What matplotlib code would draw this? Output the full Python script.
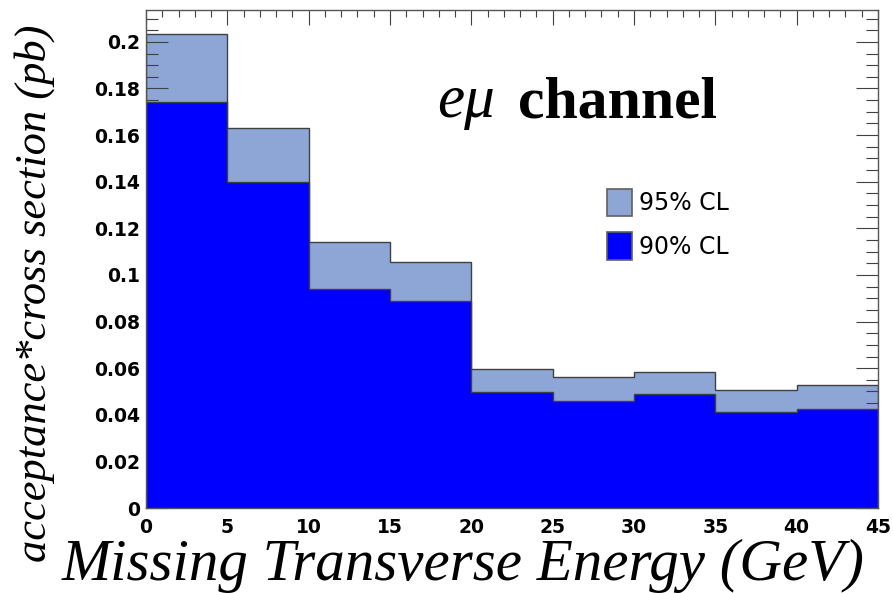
import numpy as np
import matplotlib
matplotlib.use("Agg")
import matplotlib.pyplot as plt
from matplotlib.ticker import MultipleLocator, FuncFormatter

# Missing transverse energy bins (GeV)
bin_edges = [0, 5, 10, 15, 20, 25, 30, 35, 40, 45]
# Upper limits on acceptance * cross section (pb)
limit_95 = [0.2035, 0.1630, 0.1143, 0.1057, 0.0598, 0.0561, 0.0583, 0.0507, 0.0528]
limit_90 = [0.1744, 0.1400, 0.0940, 0.0888, 0.0496, 0.0460, 0.0487, 0.0414, 0.0424]
series_labels = ["95% CL", "90% CL"]

W, H = 893, 593
fig = plt.figure(figsize=(W / 100, H / 100), dpi=100)
ax = fig.add_axes([146 / W, 1 - 508 / H, (878 - 146) / W, (508 - 10) / H])

edge = "#404040"
h95 = ax.stairs(limit_95, bin_edges, fill=True, facecolor="#8da6d6",
                edgecolor=edge, linewidth=1.0, zorder=1, label=series_labels[0])
h90 = ax.stairs(limit_90, bin_edges, fill=True, facecolor="#0000ff",
                edgecolor=edge, linewidth=1.0, zorder=2, label=series_labels[1])

ax.set_xlim(bin_edges[0], bin_edges[-1])
ax.set_ylim(0, max(limit_95) * 1.05)
ax.set_axisbelow("line")

ax.xaxis.set_major_locator(MultipleLocator(5))
ax.xaxis.set_minor_locator(MultipleLocator(1))
ax.yaxis.set_major_locator(MultipleLocator(0.02))
ax.yaxis.set_minor_locator(MultipleLocator(0.005))
ax.yaxis.set_major_formatter(FuncFormatter(lambda v, p: f"{v:g}"))
ax.xaxis.set_major_formatter(FuncFormatter(lambda v, p: f"{v:g}"))

tick_col = "#404040"
ax.tick_params(axis="x", which="both", direction="in", top=True, bottom=True,
               color=tick_col, width=0.8)
ax.tick_params(axis="x", which="major", length=10.8, pad=7)
ax.tick_params(axis="x", which="minor", length=5)
ax.tick_params(axis="y", which="both", direction="in", left=True, right=True,
               color=tick_col, width=0.8)
ax.tick_params(axis="y", which="major", length=15.8, pad=4.5)
ax.tick_params(axis="y", which="minor", length=8.6)

for lab in ax.get_xticklabels() + ax.get_yticklabels():
    lab.set_fontfamily("DejaVu Sans")
    lab.set_fontweight("bold")
    lab.set_fontsize(13.5)

for sp in ax.spines.values():
    sp.set_color("#555555")
    sp.set_linewidth(1.0)

# Legend
fs_leg = 17
leg = fig.legend(handles=[h95, h90], labels=series_labels,
                 loc="upper left", bbox_to_anchor=(607 / W, 1 - 189 / H),
                 frameon=False, prop={"family": "DejaVu Sans", "size": fs_leg},
                 handlelength=1.06, handleheight=1.4, labelspacing=0.68,
                 handletextpad=0.28, borderpad=0, borderaxespad=0)
for p in leg.get_patches():
    p.set_edgecolor("#606060")
    p.set_linewidth(1.2)

# Channel annotation
fig.text(437 / W, 1 - 117 / H, "e\u03bc", family="Liberation Serif", style="italic",
         fontsize=44, va="baseline", ha="left")
fig.text(518 / W, 1 - 117 / H, "channel", family="Liberation Serif", weight="bold",
         fontsize=43, va="baseline", ha="left")

# Axis titles
fig.text(865 / W, 1 - 580 / H, "Missing Transverse Energy (GeV)",
         family="Liberation Serif", style="italic", fontsize=42.5,
         ha="right", va="baseline")
fig.text(46 / W, 1 - 25 / H, "acceptance*cross section (pb)",
         family="Liberation Serif", style="italic", fontsize=32,
         rotation=90, rotation_mode="anchor", ha="right", va="baseline")

fig.savefig("out.png", dpi=100)
